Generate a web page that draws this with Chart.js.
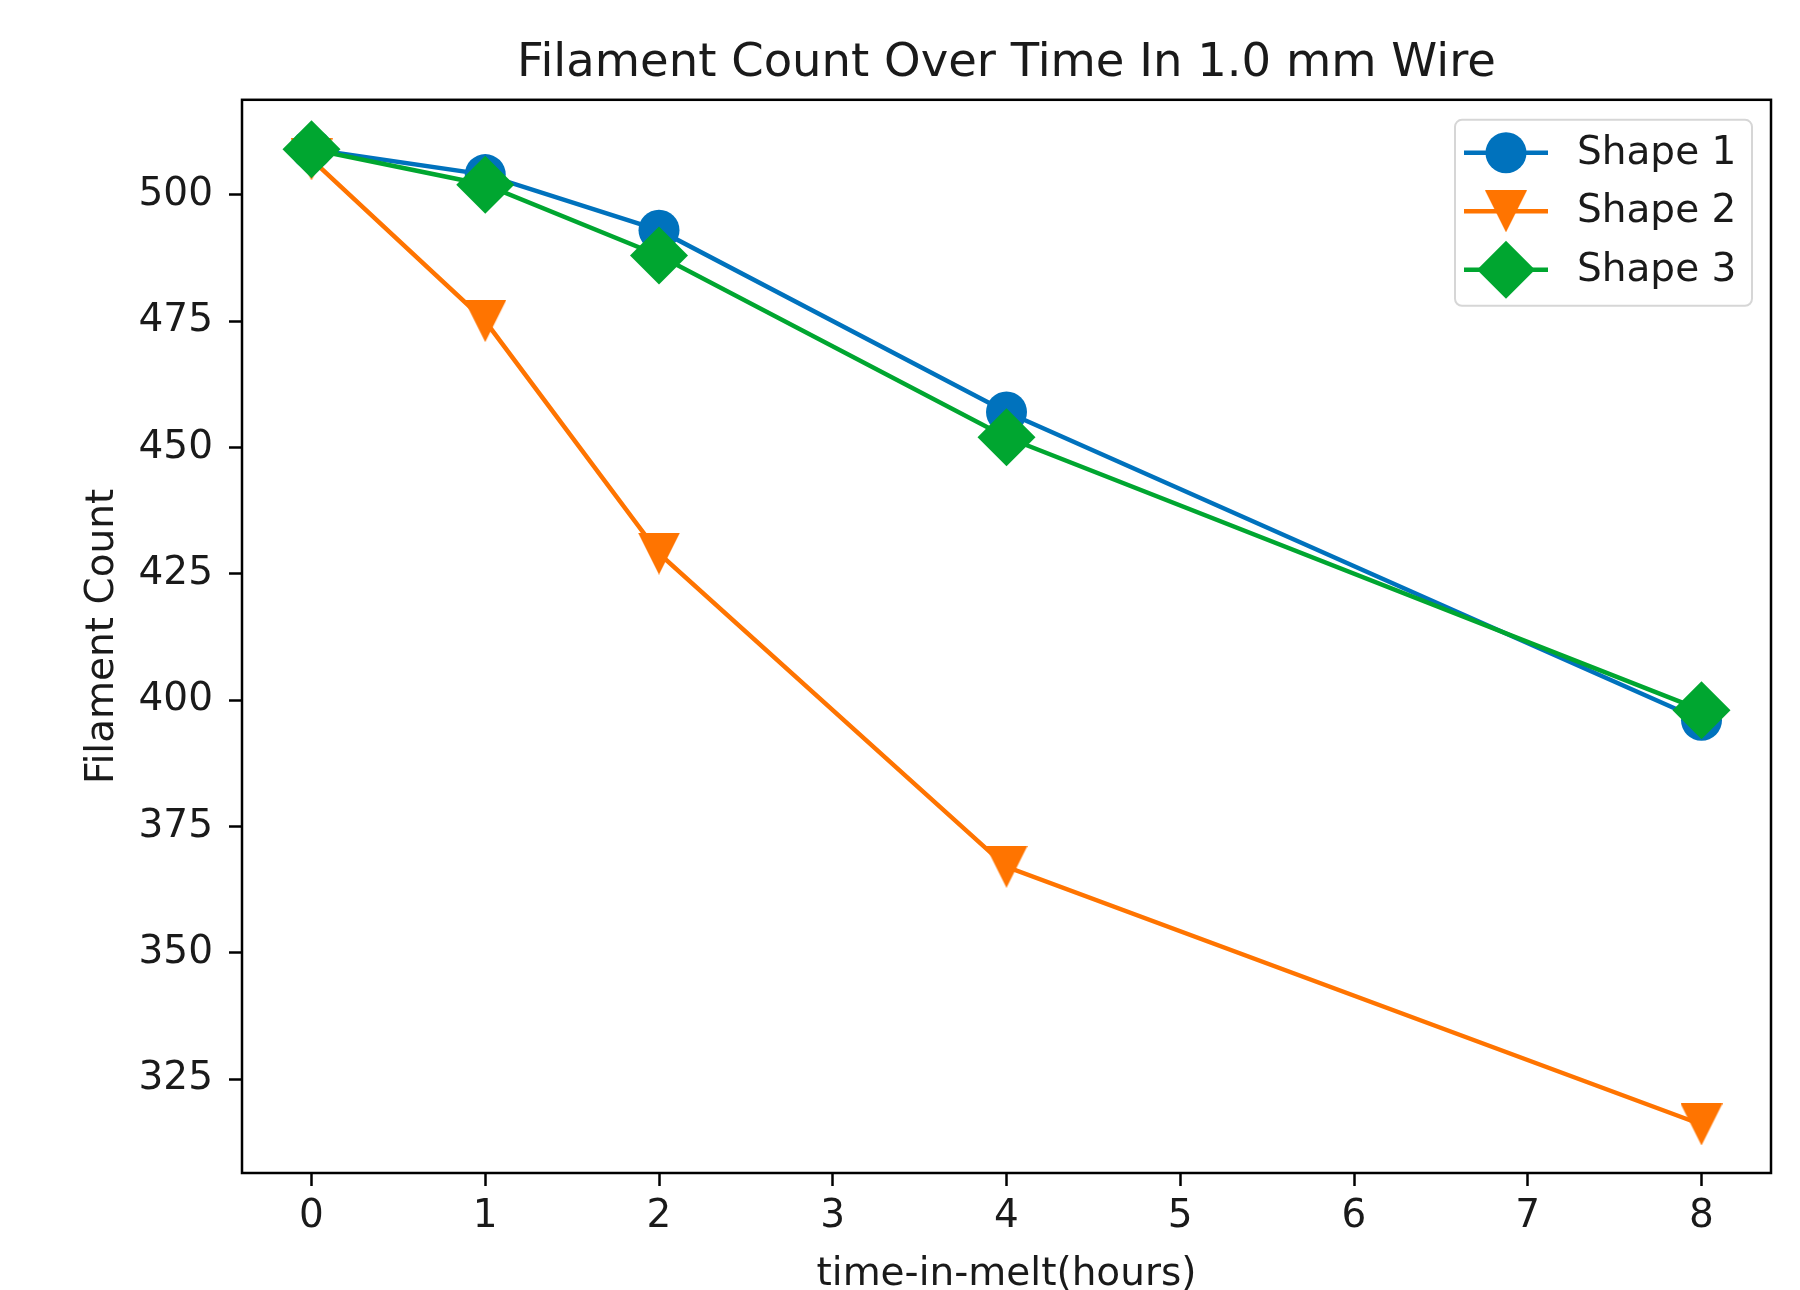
<!DOCTYPE html>
<html><head><meta charset="utf-8">
<script src="https://cdn.jsdelivr.net/npm/chart.js@4.4.1/dist/chart.umd.min.js"></script>
<style>html,body{margin:0;padding:0;background:#fff}#wrap{width:1800px;height:1290px;position:relative}</style>
</head><body><div id="wrap"><canvas id="c"></canvas></div>
<script>
const timeHours = [0, 1, 2, 4, 8];
const shape1 = [509, 504, 493, 457, 396];
const shape2 = [507, 475, 429, 367, 316];
const shape3 = [509, 502, 488, 452, 398];
const seriesLabels = ['Shape 1', 'Shape 2', 'Shape 3'];
const xTickValues = [0, 1, 2, 3, 4, 5, 6, 7, 8];
const yTickValues = [325, 350, 375, 400, 425, 450, 475, 500];
const titleText = 'Filament Count Over Time In 1.0 mm Wire';
const xTitle = 'time-in-melt(hours)';
const yTitle = 'Filament Count';

const FONT = '"DejaVu Sans", "Liberation Sans", sans-serif';
const colors = ['#0072BD', '#FF7400', '#00A630'];
const TXT = '#1a1a1a';

function triangleDown(size, color) {
  const c = document.createElement('canvas');
  c.width = size; c.height = size;
  const g = c.getContext('2d');
  g.fillStyle = color;
  g.beginPath(); g.moveTo(0, 0); g.lineTo(size, 0); g.lineTo(size / 2, size); g.closePath(); g.fill();
  return c;
}
const triImg = triangleDown(42, colors[1]);

const markerStyles = [
  {pointStyle: 'circle', radius: 20.5},
  {pointStyle: triImg, radius: 21},
  {pointStyle: 'rectRot', radius: 29}
];

function toXY(vals) { return timeHours.map((t, i) => ({x: t, y: vals[i]})); }
const allSeries = [shape1, shape2, shape3];

const datasets = allSeries.map((vals, i) => ({
  label: seriesLabels[i],
  data: toXY(vals),
  borderColor: colors[i],
  backgroundColor: colors[i],
  borderWidth: 4.5,
  tension: 0,
  pointStyle: markerStyles[i].pointStyle,
  pointRadius: markerStyles[i].radius,
  pointBorderWidth: 0,
  pointBackgroundColor: colors[i],
  pointHoverRadius: markerStyles[i].radius,
  order: 3 - i,
  clip: false
}));

const frameAndLegend = {
  id: 'frameAndLegend',
  afterDatasetsDraw(chart) {
    const ctx = chart.ctx, a = chart.chartArea;
    ctx.save();
    ctx.strokeStyle = '#000';
    ctx.lineWidth = 2.5;
    ctx.strokeRect(a.left, a.top, a.right - a.left, a.bottom - a.top);
    // legend
    const w = 297, h = 186;
    const lx = a.right - 19 - w, ly = a.top + 20;
    ctx.fillStyle = 'rgba(255,255,255,0.8)';
    ctx.strokeStyle = '#d6d6d6';
    ctx.lineWidth = 2;
    ctx.beginPath();
    if (ctx.roundRect) ctx.roundRect(lx, ly, w, h, 7); else ctx.rect(lx, ly, w, h);
    ctx.fill(); ctx.stroke();
    const rowStep = 58.5;
    chart.data.datasets.forEach((ds, i) => {
      const cy = ly + 33 + i * rowStep;
      ctx.strokeStyle = ds.borderColor;
      ctx.lineWidth = 4.5;
      ctx.beginPath(); ctx.moveTo(lx + 9, cy); ctx.lineTo(lx + 93, cy); ctx.stroke();
      ctx.fillStyle = ds.backgroundColor;
      Chart.helpers.drawPoint(ctx, {pointStyle: ds.pointStyle, radius: ds.pointRadius, rotation: 0, borderWidth: 0}, lx + 51, cy);
      ctx.fillStyle = TXT;
      ctx.font = '39px ' + FONT;
      ctx.textBaseline = 'middle';
      ctx.textAlign = 'left';
      ctx.fillText(ds.label, lx + 122, cy + 1);
    });
    ctx.restore();
  }
};

new Chart(document.getElementById('c'), {
  type: 'line',
  data: {datasets},
  plugins: [frameAndLegend],
  options: {
    responsive: true,
    maintainAspectRatio: false,
    animation: false,
    events: [],
    layout: {padding: {left: 0, right: 20, top: 0, bottom: 0}},
    plugins: {
      legend: {display: false},
      tooltip: {enabled: false},
      title: {
        display: true, text: titleText, color: TXT, fullSize: false,
        font: {family: FONT, size: 46.5, weight: 'normal', lineHeight: 1.2},
        padding: {top: 36, bottom: 8}
      }
    },
    scales: {
      x: {
        type: 'linear', min: -0.4, max: 8.4,
        afterBuildTicks: s => { s.ticks = xTickValues.map(v => ({value: v})); },
        afterFit: s => { s.height = 117; },
        grid: {display: true, drawOnChartArea: false, drawTicks: true, tickLength: 13, tickWidth: 2.5, tickColor: '#000'},
        border: {display: false},
        ticks: {color: TXT, font: {family: FONT, size: 39}, padding: 7, maxRotation: 0, autoSkip: false},
        title: {display: true, text: xTitle, color: TXT, font: {family: FONT, size: 39, lineHeight: 0.7}, padding: {top: 0, bottom: 1}}
      },
      y: {
        type: 'linear', min: 306.4, max: 518.8,
        afterBuildTicks: s => { s.ticks = yTickValues.map(v => ({value: v})); },
        afterFit: s => { s.width = 242; },
        grid: {display: true, drawOnChartArea: false, drawTicks: true, tickLength: 13, tickWidth: 2.5, tickColor: '#000'},
        border: {display: false},
        ticks: {color: TXT, font: {family: FONT, size: 39}, padding: 16, autoSkip: false},
        title: {display: true, text: yTitle, color: TXT, font: {family: FONT, size: 39, lineHeight: 1}, padding: {top: 83, bottom: 0}}
      }
    }
  }
});
</script></body></html>
